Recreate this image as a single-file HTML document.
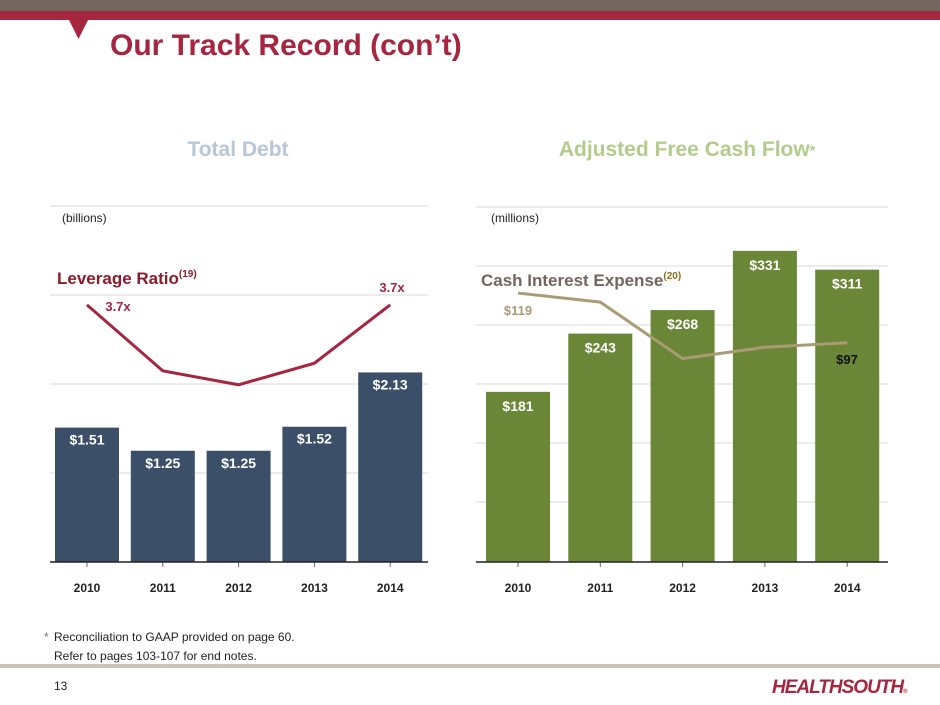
<!DOCTYPE html>
<html><head><meta charset="utf-8"><style>
body{margin:0;width:940px;height:705px;background:#fff;overflow:hidden;font-family:"Liberation Sans",Arial,sans-serif;position:relative}
svg{position:absolute;left:0;top:0}
</style></head><body>
<svg id="s" width="940" height="705">
<rect x="0" y="0" width="940" height="11" fill="#74655d"/>
<rect x="0" y="11" width="940" height="9" fill="#a6253f"/>
<polygon points="69,20 88,20 78.5,39" fill="#a6253f"/>
<text x="110" y="55" font-size="30" font-weight="bold" fill="#a6253f">Our Track Record (con’t)</text>
<text x="238" y="156" font-size="21" font-weight="bold" fill="#b5c7d8" text-anchor="middle">Total Debt</text>
<text x="687" y="156" font-size="21" font-weight="bold" fill="#b3cc8c" text-anchor="middle">Adjusted Free Cash Flow<tspan font-size="14" dy="-1">*</tspan></text>
<g id="L"></g><g id="R"></g>
<text x="44" y="641" font-size="12" fill="#777">*</text>
<text x="54" y="641" font-size="12" fill="#222">Reconciliation to GAAP provided on page 60.</text>
<text x="54" y="660" font-size="12" fill="#222">Refer to pages 103-107 for end notes.</text>
<rect x="0" y="664" width="940" height="4" fill="#cbc3b4"/>
<text x="54" y="690" font-size="12" fill="#222">13</text>
<text x="772" y="693" font-size="19" font-weight="bold" font-style="italic" fill="#a6253f" letter-spacing="-1">HEALTHSOUTH<tspan font-size="6">®</tspan></text>
</svg>
<script>
const years=["2010","2011","2012","2013","2014"];
const debt=[1.51,1.25,1.25,1.52,2.13];
const debtLabels=["$1.51","$1.25","$1.25","$1.52","$2.13"];
const leverage=[3.7,2.75,2.55,2.86,3.7];
const fcf=[181,243,268,331,311];
const fcfLabels=["$181","$243","$268","$331","$311"];
const interest=[119,115,90,95,97];
const NS="http://www.w3.org/2000/svg";
function mk(p,t,a,txt){const e=document.createElementNS(NS,t);for(const k in a)e.setAttribute(k,a[k]);if(txt!==undefined)e.textContent=txt;p.appendChild(e);return e;}
const base=562;
// Left chart
const L=document.getElementById('L');
const lx=i=>87+i*75.8, ly=v=>base-v*89, lev=v=>base-v*69.5;
[1,2,3,4].forEach(g=>{const e=mk(L,'line',{x1:50,x2:428,y1:ly(g),y2:ly(g),stroke:'#d9d9d9','stroke-width':1});
});
let t=mk(L,'text',{x:62,y:222,'font-size':12,fill:'#222'},'(billions)');

debt.forEach((v,i)=>{let b=mk(L,'rect',{x:lx(i)-32,y:ly(v),width:64,height:base-ly(v),fill:'#3b5068'});

let tl=mk(L,'text',{x:lx(i),y:ly(v)+17,'font-size':14,'font-weight':'bold',fill:'#fff','text-anchor':'middle'},debtLabels[i]);

let yl=mk(L,'text',{x:lx(i),y:592,'font-size':12,'font-weight':'bold',fill:'#222','text-anchor':'middle'},years[i]);

let tk=mk(L,'line',{x1:lx(i),x2:lx(i),y1:base,y2:base+5,stroke:'#666'});
});
let ax=mk(L,'line',{x1:50,x2:428,y1:base,y2:base,stroke:'#222','stroke-width':1.5});

let pl=mk(L,'polyline',{points:leverage.map((v,i)=>lx(i)+','+lev(v)).join(' '),fill:'none',stroke:'#a6253f','stroke-width':3});

t=mk(L,'text',{x:57,y:284,'font-size':17,'font-weight':'bold',fill:'#8c1c2c'});t.innerHTML='Leverage Ratio<tspan font-size="10" dy="-7">(19)</tspan>';

t=mk(L,'text',{x:118,y:311,'font-size':13,'font-weight':'bold',fill:'#a6253f','text-anchor':'middle'},leverage[0]+'x');

t=mk(L,'text',{x:392,y:292,'font-size':13,'font-weight':'bold',fill:'#a6253f','text-anchor':'middle'},leverage[4]+'x');

// Right chart
const R=document.getElementById('R');
const rx=i=>518+i*82.3, ry=v=>base-v*0.94, iy=v=>base-v*2.26;
[0,1,2,3,4,5].forEach(g=>{const e=mk(R,'line',{x1:476,x2:888,y1:207+g*59,y2:207+g*59,stroke:'#d9d9d9','stroke-width':1});
});
t=mk(R,'text',{x:491,y:222,'font-size':12,fill:'#222'},'(millions)');

fcf.forEach((v,i)=>{let b=mk(R,'rect',{x:rx(i)-32,y:ry(v),width:64,height:base-ry(v),fill:'#6a8637'});

let tl=mk(R,'text',{x:rx(i),y:ry(v)+19,'font-size':14,'font-weight':'bold',fill:'#fff','text-anchor':'middle'},fcfLabels[i]);

let yl=mk(R,'text',{x:rx(i),y:592,'font-size':12,'font-weight':'bold',fill:'#222','text-anchor':'middle'},years[i]);

let tk=mk(R,'line',{x1:rx(i),x2:rx(i),y1:base,y2:base+5,stroke:'#666'});
});
ax=mk(R,'line',{x1:476,x2:888,y1:base,y2:base,stroke:'#222','stroke-width':1.5});

pl=mk(R,'polyline',{points:interest.map((v,i)=>rx(i)+','+iy(v)).join(' '),fill:'none',stroke:'#a99b74','stroke-width':3});

t=mk(R,'text',{x:481,y:286,'font-size':17,'font-weight':'bold',fill:'#74655d'});t.innerHTML='Cash Interest Expense<tspan font-size="10" dy="-7" fill="#8c6d1a">(20)</tspan>';

t=mk(R,'text',{x:518,y:315,'font-size':13,'font-weight':'bold',fill:'#a99b74','text-anchor':'middle'},'$'+interest[0]);

t=mk(R,'text',{x:847,y:364,'font-size':13,'font-weight':'bold',fill:'#111','text-anchor':'middle'},'$'+interest[4]);

</script>
</body></html>
